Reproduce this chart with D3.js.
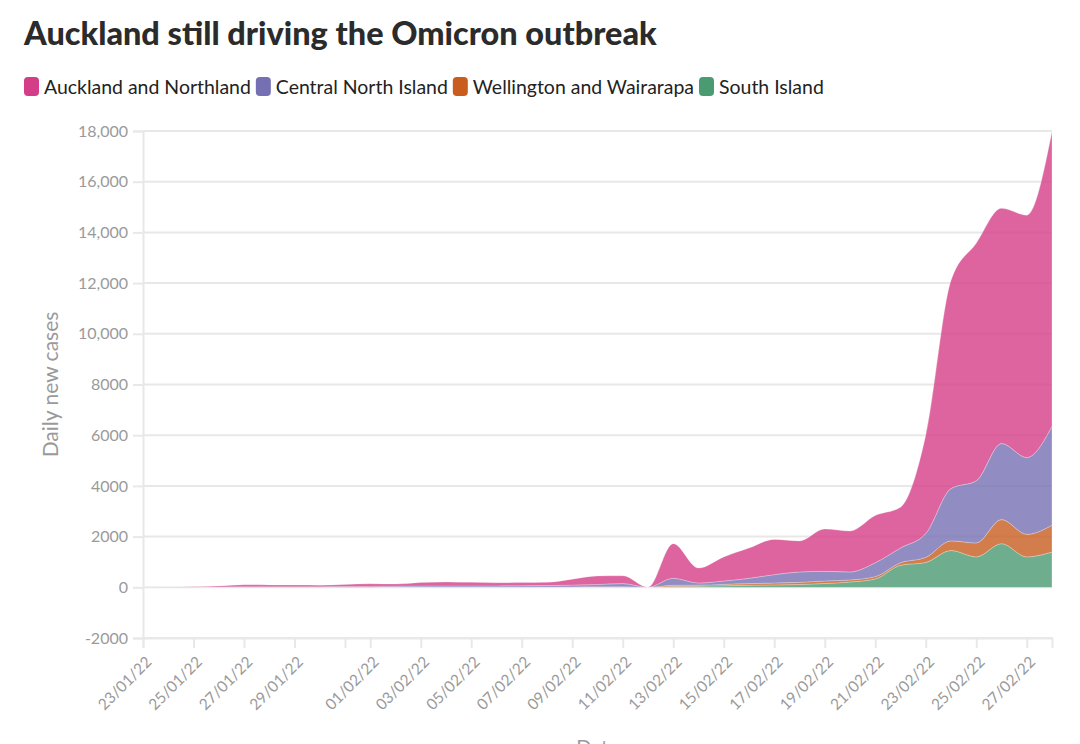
<!DOCTYPE html>
<html>
<head>
<meta charset="utf-8">
<script src="https://cdn.jsdelivr.net/npm/d3@7"></script>
<style>
  html, body { margin: 0; padding: 0; background: #fff; }
  svg { display: block; font-family: Lato, "Open Sans", sans-serif; }
</style>
</head>
<body>
<svg id="chart" width="1080" height="744"></svg>
<script>
// ---------- DATA ----------
const dates = [
  "2022-01-23","2022-01-24","2022-01-25","2022-01-26","2022-01-27","2022-01-28","2022-01-29",
  "2022-01-30","2022-01-31","2022-02-01","2022-02-02","2022-02-03","2022-02-04","2022-02-05",
  "2022-02-06","2022-02-07","2022-02-08","2022-02-09","2022-02-10","2022-02-11","2022-02-12",
  "2022-02-13","2022-02-14","2022-02-15","2022-02-16","2022-02-17","2022-02-18","2022-02-19",
  "2022-02-20","2022-02-21","2022-02-22","2022-02-23","2022-02-24","2022-02-25","2022-02-26",
  "2022-02-27","2022-02-28"
];
const aucklandNorthland = [8,12,20,38,76,71,66,61,84,104,87,140,155,140,124,124,128,234,340,310,0,
  1365,590,950,1195,1390,1225,1670,1615,1860,1610,3880,8205,9370,9280,9560,11625];
const centralNorthIsland = [2,3,5,10,20,20,20,20,25,30,35,40,45,45,45,50,55,70,90,120,0,
  275,85,135,210,330,410,380,315,550,580,940,2065,2450,3000,3030,3905];
const wellingtonWairarapa = [0,0,0,1,2,2,2,2,3,3,4,5,5,5,5,5,6,8,10,10,0,
  50,40,55,65,75,85,100,80,90,100,200,380,550,950,890,1060];
const southIsland = [0,0,0,1,2,2,2,2,3,3,4,5,5,5,6,6,6,8,10,15,0,
  30,45,60,80,95,110,150,210,330,870,980,1450,1200,1720,1200,1390];

const seriesNames = ["Auckland and Northland","Central North Island","Wellington and Wairarapa","South Island"];
const seriesColors = ["#d43d87","#7570b3","#c85d1f","#4a9a72"];
const yTickValues = [-2000,0,2000,4000,6000,8000,10000,12000,14000,16000,18000];
const titleText = "Auckland still driving the Omicron outbreak";
const yLabelText = "Daily new cases";
const xLabelText = "Date";

// ---------- BUILD ----------
const parse = d3.timeParse("%Y-%m-%d");
const valuesBySeries = [aucklandNorthland, centralNorthIsland, wellingtonWairarapa, southIsland];
const rows = dates.map((d, i) => {
  const r = { date: parse(d) };
  seriesNames.forEach((s, k) => r[s] = valuesBySeries[k][i]);
  return r;
});

const svg = d3.select("#chart");
const W = 1080, H = 744;
const m = { left: 143, right: 28, top: 131, bottom: 106 };
const x = d3.scaleTime()
  .domain(d3.extent(rows, r => r.date))
  .range([m.left, W - m.right]);
const y = d3.scaleLinear()
  .domain([-2000, 18000])
  .range([H - m.bottom, m.top]);

const gridColor = "#e8e8e8";
const textGray = "#9a9a9a";

// Title
const title = svg.append("text")
  .attr("x", 24).attr("y", 45)
  .attr("fill", "#2b2b2b")
  .attr("font-weight", 900)
  .attr("font-size", 31)
  .text(titleText);
(function fit(){ const w = title.node().getComputedTextLength(); title.attr("font-size", 31 * 633 / w); })();

// Legend
const legendOrder = seriesNames;
const lg = svg.append("g");
let lx = 24;
const probe = svg.append("text").attr("font-size", 18).text(legendOrder[0]);
const legendFs = 18 * 207 / probe.node().getComputedTextLength();
probe.remove();
legendOrder.forEach((name, k) => {
  lg.append("rect").attr("x", lx).attr("y", 77).attr("width", 15).attr("height", 19)
    .attr("rx", 4).attr("fill", seriesColors[k]);
  const t = lg.append("text").attr("x", lx + 20).attr("y", 93.5)
    .attr("font-size", legendFs).attr("fill", "#222").text(name);
  lx += 20 + t.node().getComputedTextLength() + 5;
});

// Gridlines
svg.append("g").selectAll("line").data(yTickValues).join("line")
  .attr("x1", m.left).attr("x2", W - m.right)
  .attr("y1", d => y(d)).attr("y2", d => y(d))
  .attr("stroke", gridColor).attr("stroke-width", 2);

// Y axis
const yFmt = d => Math.abs(d) >= 10000 ? d3.format(",")(d) : String(d);
const yAxis = svg.append("g").attr("transform", `translate(${m.left},0)`)
  .call(d3.axisLeft(y).tickValues(yTickValues).tickFormat(yFmt).tickSize(10).tickPadding(5));
yAxis.select(".domain").attr("stroke", gridColor).attr("stroke-width", 2);
yAxis.selectAll(".tick line").attr("stroke", gridColor).attr("stroke-width", 2);
yAxis.selectAll(".tick text").attr("fill", textGray).attr("font-size", 16)
  .attr("font-family", "Lato, sans-serif");

// Areas
const stackKeys = seriesNames.slice().reverse();
const stack = d3.stack().keys(stackKeys);
const layers = stack(rows);
const area = d3.area()
  .x(d => x(d.data.date))
  .y0(d => y(d[0]))
  .y1(d => y(d[1]))
  .curve(d3.curveMonotoneX);
svg.append("g").selectAll("path").data(layers).join("path")
  .attr("d", area)
  .attr("fill", d => seriesColors[seriesNames.indexOf(d.key)])
  .attr("fill-opacity", 0.8)
  .attr("stroke", "#fff").attr("stroke-opacity", 0.25).attr("stroke-width", 1);

// X axis
const xAxis = svg.append("g").attr("transform", `translate(0,${y(-2000)})`)
  .call(d3.axisBottom(x).ticks(d3.timeDay.every(2))
    .tickFormat(d => (d.getDate() === 31) ? "" : d3.timeFormat("%d/%m/%y")(d))
    .tickSize(10).tickPadding(4));
xAxis.select(".domain").attr("stroke", gridColor).attr("stroke-width", 2);
xAxis.selectAll(".tick line").attr("stroke", gridColor).attr("stroke-width", 2);
xAxis.selectAll(".tick text")
  .attr("fill", textGray).attr("font-size", 15.5).attr("font-family", "Lato, sans-serif")
  .attr("text-anchor", "end")
  .attr("x", 0).attr("y", 0).attr("dy", 0)
  .attr("transform", "translate(9,25) rotate(-45)");

// Axis titles
svg.append("text")
  .attr("transform", `translate(58,${(y(-2000) + y(18000)) / 2}) rotate(-90)`)
  .attr("text-anchor", "middle").attr("fill", textGray).attr("font-size", 21)
  .text(yLabelText);
svg.append("text")
  .attr("x", (m.left + W - m.right) / 2).attr("y", 754)
  .attr("text-anchor", "middle").attr("fill", textGray).attr("font-size", 20)
  .text(xLabelText);
</script>
</body>
</html>
